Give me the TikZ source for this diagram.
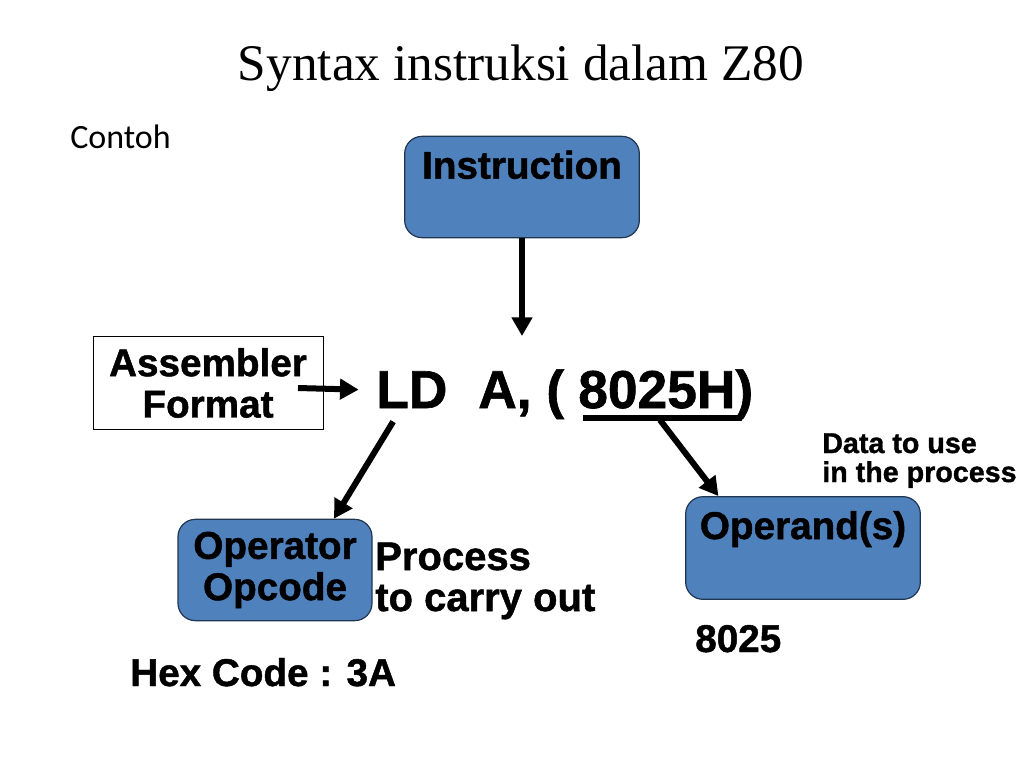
\documentclass[tikz,border=0pt]{standalone}
\usepackage{fontspec}
\setmainfont{Liberation Serif}
\newfontfamily\armfont{Liberation Sans}[BoldFeatures={FakeBold=1.2}]
\newfontfamily\calfont{Carlito}
\usepackage{tikz}
\usetikzlibrary{arrows.meta, positioning}
\usepackage{xcolor}
\definecolor{boxblue}{HTML}{4F81BD}
\definecolor{boxline}{HTML}{1F3550}

\begin{document}
\begin{tikzpicture}[x=0.75pt, y=-0.75pt,
    bluebox/.style={draw=boxline, line width=0.9pt, fill=boxblue, rounded corners=13pt},
    boldtxt/.style={font=\armfont\bfseries\fontsize{29}{31}\selectfont, align=center, inner sep=0pt},
    bigarrow/.style={line width=4.5pt, -{Triangle[length=14pt, width=15pt]}}]
  \useasboundingbox (0,0) rectangle (1024,768);

  % title and heading
  \node[anchor=base, font=\fontsize{38.5}{42}\selectfont] (title) at (521,80) {Syntax instruksi dalam Z80};
  \node[anchor=base west, inner sep=0pt, font=\calfont\fontsize{25.5}{28}\selectfont] (contoh) at (70,148) {Contoh};

  % boxes
  \node[bluebox, minimum width=176pt, minimum height=76pt] (instr) at (522,187) {};
  \node[boldtxt, below=11pt of instr.north] (instrtxt) {Instruction};
  \node[draw, line width=0.6pt, fill=white, minimum width=172.5pt, minimum height=70pt,
        boldtxt] (asm) at (208,383) {Assembler\\Format};
  \node[bluebox, boldtxt, minimum width=145.5pt, minimum height=76pt] (opcode) at (275,570) {Operator\\Opcode};
  \node[bluebox, minimum width=176pt, minimum height=77pt] (operand) at (803,548) {};
  \node[boldtxt, below=11pt of operand.north] (operandtxt) {Operand(s)};

  % the instruction
  \node[anchor=base west, inner sep=0pt, font=\armfont\bfseries\fontsize{40}{44}\selectfont] (ld) at (376,408) {LD};
  \node[anchor=base west, inner sep=0pt, font=\armfont\bfseries\fontsize{40}{44}\selectfont] (areg) at (478,408) {A, (};
  \node[anchor=base west, inner sep=0pt, font=\armfont\bfseries\fontsize{40}{44}\selectfont] (addr) at (578,408) {8025H)};
  \coordinate (barL) at (583,418);
  \coordinate (barR) at (742,418);
  \coordinate (barfoot) at (660,420);
  \draw[line width=3.8pt] (barL) -- (barR);

  % side texts
  \node[boldtxt, anchor=base west, font=\armfont\bfseries\fontsize{30}{32}\selectfont] (proc1) at (375,570) {Process};
  \node[boldtxt, anchor=base west, font=\armfont\bfseries\fontsize{30}{32}\selectfont] (proc2) at (375,611) {to carry out};
  \node[boldtxt, anchor=base west, font=\armfont\bfseries\fontsize{21.5}{24}\selectfont] (data1) at (822,453) {Data to use};
  \node[boldtxt, anchor=base west, font=\armfont\bfseries\fontsize{21.5}{24}\selectfont] (data2) at (822,482) {in the process};
  \node[boldtxt, anchor=base west] (val) at (695,652) {8025};
  \node[boldtxt, anchor=base west] (hex) at (130,686) {Hex Code : 3A};

  % arrows
  \coordinate (ldtop) at (522,336);
  \coordinate (asmout) at (298,388);
  \draw[bigarrow] (instr.south) -- (ldtop);
  \draw[bigarrow] (asmout) -- ([xshift=-13pt]ld.west);
  \draw[bigarrow] ([xshift=-14pt,yshift=-10pt]ld.south) -- ([xshift=-29pt]opcode.north east);
  \draw[bigarrow] (barfoot) -- ([xshift=25pt]operand.north west);
\end{tikzpicture}
\end{document}
